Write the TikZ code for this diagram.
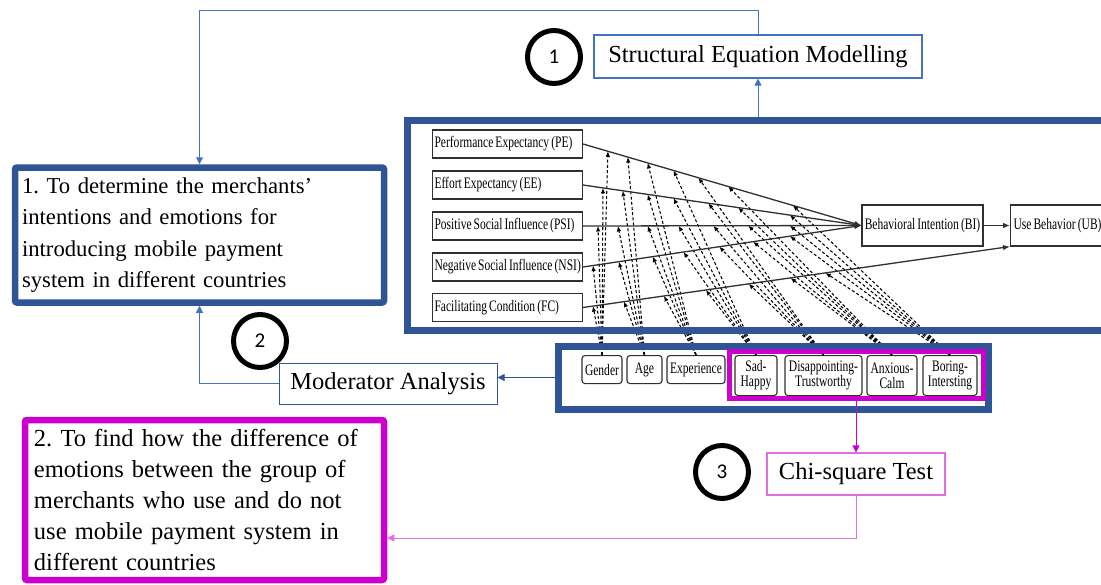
\documentclass[tikz,border=0pt]{standalone}
\usepackage{fontspec}
\setmainfont{Liberation Serif}
\newfontfamily\condfont{Liberation Serif}[FakeStretch=0.72, WordSpace=0.72]
\newfontfamily\numfont{Carlito}
\usetikzlibrary{arrows.meta,calc}
\definecolor{navy}{HTML}{2F5597}
\definecolor{skyline}{HTML}{4472C4}
\definecolor{magent}{HTML}{CC00CC}
\definecolor{pinkline}{HTML}{E070E0}
\definecolor{inkgray}{HTML}{303030}
\newcommand{\lbox}[1]{\makebox[146pt][l]{#1}}

\begin{document}
\frenchspacing
\begin{tikzpicture}[x=1pt,y=-1pt,
  goalbox/.style={draw=navy, line width=6.5pt, rounded corners=2pt, align=left, inner sep=7pt,
    font=\fontsize{22.7}{31.3}\selectfont},
  magbox/.style={draw=magent, line width=6.5pt, rounded corners=2pt, align=left, inner sep=7pt,
    font=\fontsize{24.5}{31}\selectfont},
  methodbox/.style={line width=1.2pt, inner sep=0pt, font=\fontsize{24.5}{28}\selectfont},
  framebox/.style={draw=navy, line width=7pt, inner sep=0pt},
  emoframe/.style={draw=magent, line width=5pt, inner sep=0pt},
  factor/.style={draw=inkgray, line width=1.1pt, anchor=west, minimum height=28pt,
    minimum width=150pt, inner sep=2pt, font=\condfont\fontsize{16}{16}\selectfont},
  outcome/.style={draw=inkgray, line width=1.1pt, minimum height=41pt, inner sep=1pt,
    font=\condfont\fontsize{16}{16}\selectfont},
  modnode/.style={draw=inkgray, line width=1.1pt, rounded corners=3pt, anchor=north,
    align=center, inner sep=1pt, font=\condfont\fontsize{16}{15}\selectfont},
  patharrow/.style={draw=inkgray, line width=1.3pt, -{Latex[length=7pt,width=5.5pt]}},
  modarrow/.style={draw=black, line width=1.05pt, dash pattern=on 3pt off 2.2pt,
    -{Latex[length=5.5pt,width=4.5pt]}},
  numring/.style={circle, draw=black, line width=5pt, minimum size=53pt, inner sep=0pt,
    fill=white, font=\numfont\fontsize{21}{21}\selectfont},
  bluelink/.style={draw=skyline, line width=1pt, -{Triangle[length=7pt,width=7pt]}},
  navylink/.style={draw=navy, line width=1pt, -{Triangle[length=7pt,width=7pt]}},
  maglink/.style={draw=magent, line width=1pt, -{Triangle[length=7pt,width=7pt]}},
  pinklink/.style={draw=pinkline, line width=1pt, -{Triangle[length=7pt,width=7pt]}}
]
\useasboundingbox (0,0) rectangle (1101,584);
\fill[white] (0,0) rectangle (1101,584);

% ---- structural model: constructs
\node[factor] (PE)  at (432,144)   {\lbox{Performance Expectancy (PE)}};
\node[factor] (EE)  at (432,185)   {\lbox{Effort Expectancy (EE)}};
\node[factor] (PSI) at (432,226)   {\lbox{Positive Social Influence (PSI)}};
\node[factor] (NSI) at (432,267)   {\lbox{Negative Social Influence (NSI)}};
\node[factor] (FC)  at (432,307.5) {\lbox{Facilitating Condition (FC)}};
\node[outcome, minimum width=121pt] (BI) at (922.5,225.5) {Behavioral Intention (BI)};
\node[outcome, anchor=west, minimum width=94pt] (UB) at (1010,225.5) {Use Behavior (UB)};

% ---- moderators
\node[modnode, minimum width=40pt, minimum height=28pt] (gen) at (602,355)   {Gender};
\node[modnode, minimum width=35pt, minimum height=28pt] (age) at (644.5,355) {Age};
\node[modnode, minimum width=58pt, minimum height=28pt] (exp) at (696,355)   {Experience};
\node[modnode, minimum width=42pt, minimum height=40pt] (sad) at (756,355)   {Sad-\\Happy};
\node[modnode, minimum width=77pt, minimum height=40pt] (dis) at (823.5,355) {Disappointing-\\Trustworthy};
\node[modnode, minimum width=50pt, minimum height=40pt] (anx) at (892,355)   {Anxious-\\Calm};
\node[modnode, minimum width=54pt, minimum height=40pt] (bor) at (950,355)   {Boring-\\Intersting};

% ---- moderating effects on every path
\foreach \m/\a/\b/\c/\d/\e in {gen/607/602/597/592/592, age/627/622/617/618/623,
    exp/647/647/647/652/663, sad/673/673/678/683/705, dis/698/708/713/719/748,
    anx/728/738/748/753/790, bor/793/790/790/790/825}{
  \pgfmathsetmacro\ta{(\a-582)/280}
  \pgfmathsetmacro\tb{(\b-582)/280}
  \pgfmathsetmacro\tc{(\c-582)/280}
  \pgfmathsetmacro\td{(\d-582)/280}
  \pgfmathsetmacro\te{(\e-582)/428}
  \draw[modarrow] (\m.north) -- ($(PE.east)!\ta!(BI.west)$);
  \draw[modarrow] (\m.north) -- ($(EE.east)!\tb!(BI.west)$);
  \draw[modarrow] (\m.north) -- ($(PSI.east)!\tc!(BI.west)$);
  \draw[modarrow] (\m.north) -- ($(NSI.east)!\td!(BI.west)$);
  \draw[modarrow] (\m.north) -- ($(FC.east)!\te!(UB.south west)$);
}

% ---- structural paths
\draw[patharrow] (PE.east)  -- (BI.west);
\draw[patharrow] (EE.east)  -- (BI.west);
\draw[patharrow] (PSI.east) -- (BI.west);
\draw[patharrow] (NSI.east) -- (BI.west);
\draw[patharrow] (FC.east)  -- (UB.south west);
\draw[patharrow] (BI.east)  -- (UB.west);

% ---- frames
\node[framebox, minimum width=699pt, minimum height=210pt] (model) at (756.5,225) {};
\node[framebox, minimum width=430pt, minimum height=63pt] (moder) at (773,377.5) {};
\node[emoframe, minimum width=254pt, minimum height=47pt] (emo) at (856,374.5) {};

% ---- objectives
\node[goalbox, minimum width=369pt, minimum height=135pt, text width=355pt] (goal1) at (199.5,235)
  {1. To determine the merchants'\\intentions and emotions for\\introducing mobile payment\\system in different countries};
\node[magbox, minimum width=359pt, minimum height=160pt, text width=341pt] (goal2) at (204.5,500)
  {2. To find how the difference of\\emotions between the group of\\merchants who use and do not\\use mobile payment system in\\different countries};

% ---- methods
\node[methodbox, draw=skyline, minimum width=328pt, minimum height=43pt] (SEM) at (758,56.5) {Structural Equation Modelling};
\node[methodbox, draw=navy, line width=1pt, minimum width=218pt, minimum height=41pt] (MA) at (388,383.5) {Moderator Analysis};
\node[methodbox, draw=pinkline, minimum width=178pt, minimum height=42pt] (chi) at (856,474) {Chi-square Test};

% ---- links
\coordinate (topturn) at (758,10);
\draw[bluelink] (SEM.north) -- (topturn) -| (goal1.north);
\draw[bluelink] (model.north -| SEM.south) -- (SEM.south);
\draw[navylink] (moder.west) -- (moder.west -| MA.east);
\draw[bluelink] (MA.west) -| (goal1.south);
\draw[maglink] (emo.south) -- (chi.north);
\draw[pinklink] (chi.south) |- ([yshift=-38pt]goal2.east);

% ---- step numbers
\node[numring] (n1) at (554,57)  {1};
\node[numring] (n2) at (260,341) {2};
\node[numring] (n3) at (722,472) {3};
\end{tikzpicture}
\end{document}
